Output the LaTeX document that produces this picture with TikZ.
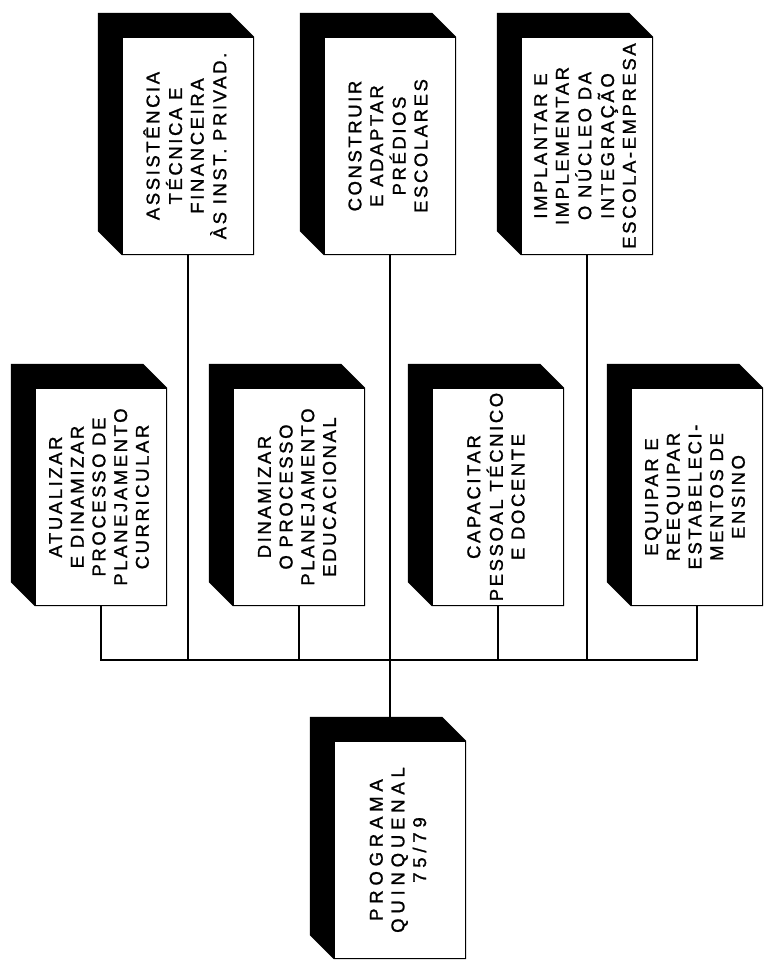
\documentclass[tikz,border=0pt]{standalone}
\usepackage{fontspec}
\newfontfamily\stencilfont[LetterSpace=14,FakeBold=1.2]{Liberation Sans}
\newfontfamily\widestencil[LetterSpace=26,FakeBold=1.2]{Liberation Sans}
\usetikzlibrary{calc,backgrounds}
\newcommand{\uptext}[2][\stencilfont]{\rotatebox{90}{#1\fontsize{18.5}{21.7}\selectfont
  \begin{tabular}{@{}c@{}}#2\end{tabular}}}

\begin{document}
\begin{tikzpicture}[x=1pt,y=-1pt,
    goalbox/.style ={rectangle, draw, fill=white, line width=1.4pt, inner sep=0pt,
      minimum width=131pt, minimum height=217pt},
    link/.style ={line width=1.4pt}]
   \useasboundingbox (0,0) rectangle (765,967);
   % upper row
   \node[goalbox] (assist)  at (188,146)  {\uptext{ASSISTÊNCIA\\TÉCNICA E\\FINANCEIRA\\ÀS INST. PRIVAD.}};
   \node[goalbox] (constr)  at (390,146)  {\uptext{CONSTRUIR\\E ADAPTAR\\PRÉDIOS\\ESCOLARES}};
   \node[goalbox] (implant) at (587,146)  {\uptext{IMPLANTAR E\\IMPLEMENTAR\\O NÚCLEO DA\\INTEGRAÇÃO\\ESCOLA-EMPRESA}};
   % middle row
   \node[goalbox] (atual)   at (101,497)  {\uptext{ATUALIZAR\\E DINAMIZAR\\PROCESSO DE\\PLANEJAMENTO\\CURRICULAR}};
   \node[goalbox] (dinam)   at (299,497)  {\uptext{DINAMIZAR\\O PROCESSO\\PLANEJAMENTO\\EDUCACIONAL}};
   \node[goalbox] (capac)   at (498,497)  {\uptext{CAPACITAR\\PESSOAL TÉCNICO\\E DOCENTE}};
   \node[goalbox] (equip)   at (697,497)  {\uptext{EQUIPAR E\\REEQUIPAR\\ESTABELECI-\\MENTOS DE\\ENSINO}};
   % program
   \node[goalbox] (prog)    at (400,850)  {\uptext[\widestencil]{PROGRAMA\\QUINQUENAL\\75/79}};
   % black sides
   \begin{scope}[on background layer]
   \foreach \n in {assist,constr,implant,atual,dinam,capac,equip,prog}
     \fill ($(\n.south west)+(-24,-24)$) -- ($(\n.north west)+(-24,-24)$)
       -- ($(\n.north east)+(-24,-24)$) -- (\n.north east) -- (\n.south east)
       -- (\n.south west) -- cycle;
   \end{scope}
   % connectors
   \coordinate (bus) at (0,660);
   \draw[link] (atual.south) -- (atual.south |- bus) -| (equip.south);
   \foreach \n in {assist,dinam,capac,implant}
     \draw[link] (\n.south) -- (\n.south |- bus);
   \draw[link] (constr.south) -- (constr.south |- prog.north);
 \end{tikzpicture}
\end{document}
